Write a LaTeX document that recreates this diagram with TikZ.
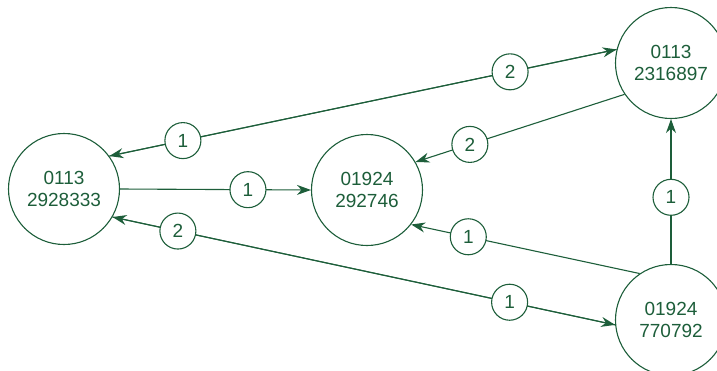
\documentclass[tikz,border=0pt]{standalone}
\usepackage{fontspec}
\setmainfont{Liberation Sans}
\usetikzlibrary{arrows.meta}
\definecolor{dkgreen}{HTML}{1D5E3A}
\begin{document}
\begin{tikzpicture}[x=1pt, y=-1pt, line width=1.1pt, draw=dkgreen, text=dkgreen,
  phone/.style={draw=dkgreen, circle, align=center, minimum size=111pt, inner sep=0pt,
                font=\fontsize{19}{22}\selectfont},
  lbl/.style={draw=dkgreen, circle, fill=white, minimum size=36pt, inner sep=0pt,
              font=\fontsize{19}{22}\selectfont},
  a/.style={-{Stealth[length=14pt, width=10pt]}, dkgreen}]

  \useasboundingbox (0,0) rectangle (717,370);

  \node[phone] (left)   at (64,189)  {0113\\2928333};
  \node[phone] (mid)    at (367,190) {01924\\292746};
  \node[phone] (topr)   at (671,63)  {0113\\2316897};
  \node[phone] (botr)   at (671,320) {01924\\770792};

  % connectors
  \draw[a] (left.36) -- (topr.166);
  \draw[a] (topr.166) -- (left.36);
  \draw[a] (left.0) -- (mid.180);
  \draw[a] (topr.214) -- (mid.30);
  \draw[a] (botr.124) -- (mid.322);
  \draw[a] (botr.90) -- (topr.270);
  \draw[a] (left.330) -- (botr.185);
  \draw[a] (botr.185) -- (left.330);

  % labels on top
  \path (left.36) -- node[lbl, pos=0.79] (lt) {2} (topr.166);
  \path (topr.166) -- node[lbl, pos=0.855] (tl) {1} (left.36);
  \path (left.0) -- node[lbl, pos=0.67] (lm) {1} (mid.180);
  \path (topr.214) -- node[lbl, pos=0.74] (tm) {2} (mid.30);
  \path (botr.124) -- node[lbl, pos=0.75] (bm) {1} (mid.322);
  \path (botr.90) -- node[lbl, pos=0.46] (bt) {1} (topr.270);
  \path (left.330) -- node[lbl, pos=0.79] (lb) {1} (botr.185);
  \path (botr.185) -- node[lbl, pos=0.87] (bl) {2} (left.330);

\end{tikzpicture}
\end{document}
